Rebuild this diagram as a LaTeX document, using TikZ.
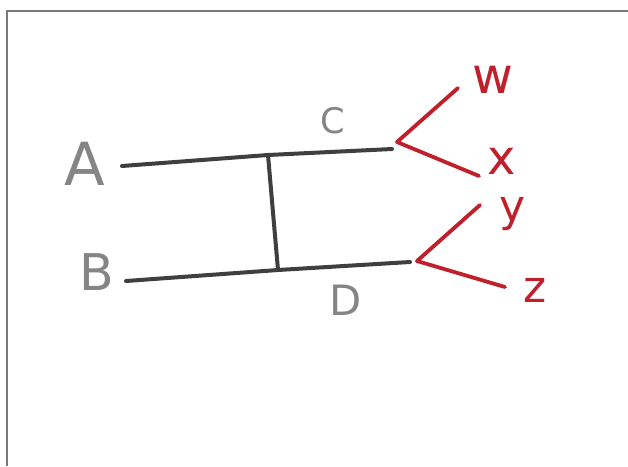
\documentclass[tikz,border=0pt]{standalone}
\usepackage{fontspec}
\setsansfont{DejaVu Sans}

\definecolor{framegray}{HTML}{7A7A7A}
\definecolor{linegray}{HTML}{3F3F3F}
\definecolor{labelgray}{HTML}{858585}
\definecolor{treered}{HTML}{C0202B}

\tikzset{
  branch/.style={line width=4pt, color=linegray, line cap=round, line join=round},
  twig/.style={line width=3.8pt, color=treered, line cap=round, line join=round},
  lbl/.style={text=labelgray, font=\sffamily\fontsize{44}{44}\selectfont, inner sep=0pt},
  redlbl/.style={text=treered, font=\sffamily\fontsize{40}{40}\selectfont, inner sep=0pt},
}

\begin{document}
\begin{tikzpicture}[x=1pt, y=-1pt]
    \useasboundingbox (0,0) rectangle (628,466);
    % frame: top and left edges only
    \draw[framegray, line width=2.6pt] (7,466) -- (7,11) -- (628,11);

    % points of the tree
    \coordinate (a0) at (122,166); \coordinate (j1) at (268,155);
    \coordinate (c1) at (392,149);
    \coordinate (b0) at (126,281); \coordinate (j2) at (278,270);
    \coordinate (d1) at (410,262);
    \coordinate (cv) at (397,142); \coordinate (dv) at (417,261);
    \coordinate (w1) at (458,88);  \coordinate (x1) at (479,176);
    \coordinate (y1) at (480,205); \coordinate (z1) at (505,287);

    % grey part
    \draw[branch] (a0) -- (j1) -- (c1);
    \draw[branch] (b0) -- (j2) -- (d1);
    \draw[branch] (j1) -- (j2);

    % red forks
    \draw[twig] (w1) -- (cv) -- (x1);
    \draw[twig] (y1) -- (dv) -- (z1);

    % labels
    \node[lbl, scale=1.35] (A) at (85,164) {A};
    \node[lbl, scale=1.15] (B) at (97,272) {B};
    \node[lbl, scale=0.8] (C) at (333,121) {C};
    \node[lbl, scale=0.95] (D) at (346,300) {D};
    \node[redlbl, scale=1.25] (w) at (493,80) {w};
    \node[redlbl, scale=1.2] (x) at (502,161) {x};
    \node[redlbl, scale=1.1] (y) at (513,214) {y};
    \node[redlbl, scale=1.1] (z) at (535,290) {z};
\end{tikzpicture}
\end{document}
